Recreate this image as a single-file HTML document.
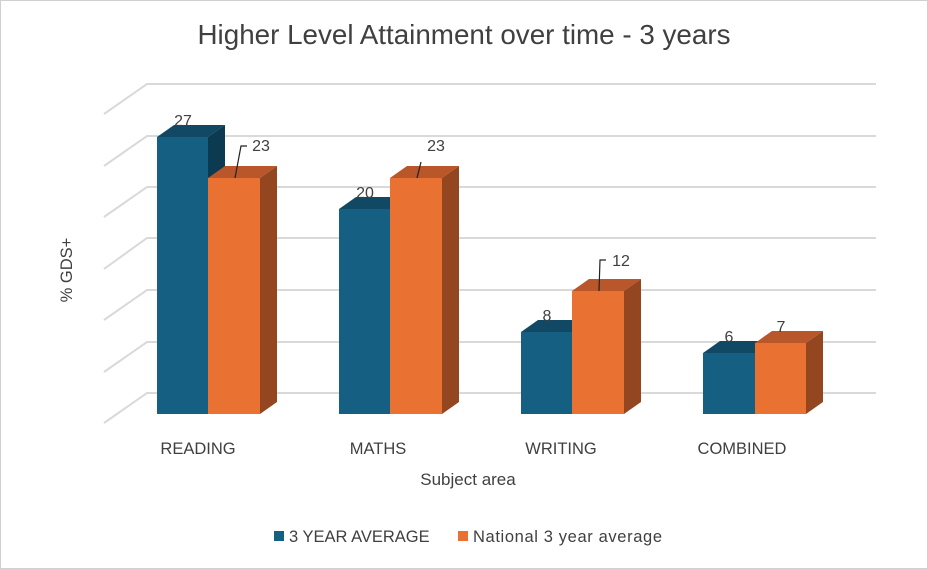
<!DOCTYPE html>
<html><head><meta charset="utf-8"><style>
html,body{margin:0;padding:0;background:#fff}
svg{display:block}
text{font-family:"Liberation Sans",Arial,sans-serif;fill:#404040}
</style></head><body>
<svg width="928" height="569" viewBox="0 0 928 569" xmlns="http://www.w3.org/2000/svg">
<rect x="0.5" y="0.5" width="927" height="568" fill="#fff" stroke="#d0d0d0"/>
<text x="464" y="44" font-size="27.8" text-anchor="middle" fill="#595959">Higher Level Attainment over time - 3 years</text>
<g stroke="#d9d9d9" stroke-width="2" fill="none">
<path d="M104,114 L147,84 H876"/>
<path d="M104,166 L147,136 H876"/>
<path d="M104,217 L147,187 H876"/>
<path d="M104,269 L147,238 H876"/>
<path d="M104,320 L147,290 H876"/>
<path d="M104,372 L147,342 H876"/>
<path d="M104,423 L147,393 H876"/>
</g>
<g id="bars">
<polygon points="157,137 174,125 225,125 208,137" fill="#114964"/>
<polygon points="208,137 225,125 225,402 208,414" fill="#0c3a50"/>
<rect x="157" y="137" width="51" height="277" fill="#156082"/>
<polygon points="208,178 225,166 277,166 260,178" fill="#b9562a"/>
<polygon points="260,178 277,166 277,402 260,414" fill="#93461f"/>
<rect x="208" y="178" width="52" height="236" fill="#e97132"/>
<polygon points="339,209 356,197 407,197 390,209" fill="#114964"/>
<rect x="339" y="209" width="51" height="205" fill="#156082"/>
<polygon points="390,178 407,166 459,166 442,178" fill="#b9562a"/>
<polygon points="442,178 459,166 459,402 442,414" fill="#93461f"/>
<rect x="390" y="178" width="52" height="236" fill="#e97132"/>
<polygon points="521,332 538,320 589,320 572,332" fill="#114964"/>
<rect x="521" y="332" width="51" height="82" fill="#156082"/>
<polygon points="572,291 589,279 641,279 624,291" fill="#b9562a"/>
<polygon points="624,291 641,279 641,402 624,414" fill="#93461f"/>
<rect x="572" y="291" width="52" height="123" fill="#e97132"/>
<polygon points="703,353 720,341 771,341 755,353" fill="#114964"/>
<rect x="703" y="353" width="52" height="61" fill="#156082"/>
<polygon points="755,343 772,331 823,331 806,343" fill="#b9562a"/>
<polygon points="806,343 823,331 823,402 806,414" fill="#93461f"/>
<rect x="755" y="343" width="51" height="71" fill="#e97132"/>
</g>
<g stroke="#222" stroke-width="1.2" fill="none">
<path d="M235,178 L241,146 H247"/>
<path d="M417,178 L421,162"/>
<path d="M599,291 L600,260 H606"/>
</g>
<g font-size="16" text-anchor="middle">
<text x="183" y="126">27</text>
<text x="261" y="151">23</text>
<text x="365" y="198">20</text>
<text x="436" y="151">23</text>
<text x="547" y="321">8</text>
<text x="621" y="266">12</text>
<text x="729" y="342">6</text>
<text x="781" y="332">7</text>
</g>
<g font-size="16.5" text-anchor="middle">
<text x="198" y="454">READING</text>
<text x="378" y="454">MATHS</text>
<text x="561" y="454">WRITING</text>
<text x="742" y="454">COMBINED</text>
</g>
<text x="468" y="485" font-size="17" text-anchor="middle" fill="#595959">Subject area</text>
<text transform="translate(72,270) rotate(-90)" font-size="16.5" text-anchor="middle" fill="#595959">% GDS+</text>
<rect x="274" y="531" width="10" height="10" fill="#156082"/>
<text x="289" y="542" font-size="16.5">3 YEAR AVERAGE</text>
<rect x="458" y="531" width="10" height="10" fill="#e97132"/>
<text x="473" y="542" font-size="16.5" textLength="189">National 3 year average</text>
</svg>
</body></html>
